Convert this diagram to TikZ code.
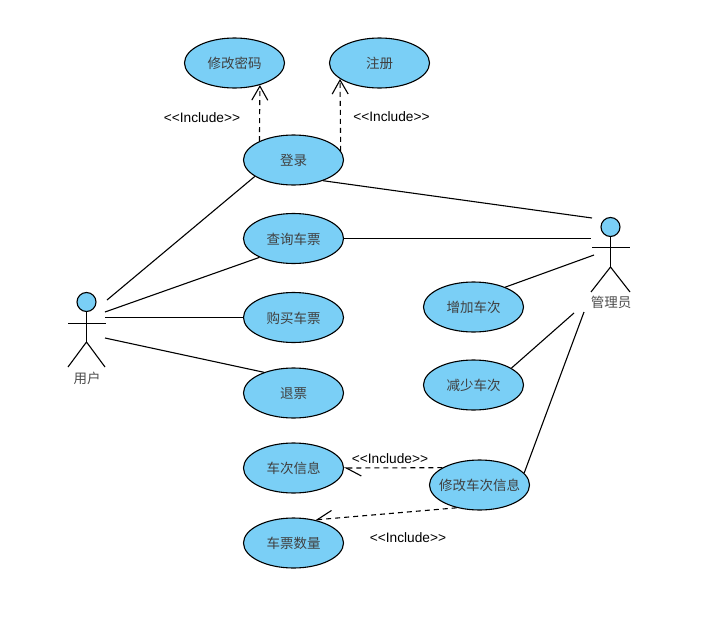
\documentclass[tikz,border=0pt]{standalone}
\usepackage{fontspec}
\setmainfont{Liberation Sans}
\newfontfamily\cjk{Noto Sans CJK SC}
\usepackage{xcolor}
\usetikzlibrary{shapes.geometric,arrows.meta}
\definecolor{casefill}{HTML}{7ACFF6}

\begin{document}
\begin{tikzpicture}[x=1pt,y=-1pt,
  usecase/.style={draw, ellipse, minimum width=100pt, minimum height=50pt, inner sep=-10pt, text height=13.5pt, text depth=1.6pt, font=\fontsize{13.5}{15}\cjk, text=black!75, fill=casefill, line width=1.1pt},
  head/.style={draw, circle, minimum size=19pt, inner sep=0pt, fill=casefill, line width=1.1pt},
  actorlabel/.style={font=\fontsize{13.5}{15}\cjk, text=black!70, inner sep=0pt},
  includelabel/.style={font=\fontsize{13.7}{15}\selectfont, inner sep=0pt},
  line/.style={line width=1.1pt},
  include/.style={line width=1.1pt, dash pattern=on 5pt off 4pt, -{Straight Barb[length=14pt, width=16pt, line width=1.1pt]}},
  includeleft/.style={line width=1.1pt, dash pattern=on 5pt off 4pt, -{Straight Barb[harpoon, length=15pt, width=16pt, line width=1.1pt]}},
  includeright/.style={line width=1.1pt, dash pattern=on 5pt off 4pt, -{Straight Barb[harpoon, swap, length=15pt, width=16pt, line width=1.1pt]}}
]
  \useasboundingbox (0,0) rectangle (707,640);

  \node[usecase] (changepwd) at (234.5,63) {修改密码};
  \node[usecase] (register) at (379.5,63) {注册};
  \node[usecase] (login) at (293.5,160) {登录};
  \node[usecase] (query) at (293.5,238.5) {查询车票};
  \node[usecase] (buy) at (293.5,317.5) {购买车票};
  \node[usecase] (refund) at (293.5,393) {退票};
  \node[usecase] (traininfo) at (293.5,468) {车次信息};
  \node[usecase] (ticketnum) at (293.5,543) {车票数量};
  \node[usecase] (addtrain) at (473.5,307) {增加车次};
  \node[usecase] (deltrain) at (473.5,385) {减少车次};
  \node[usecase] (edittrain) at (479.5,485) {修改车次信息};

  \node[head] (userhead) at (86.5,302) {};
  \coordinate (userhip) at (86.5,342);
  \coordinate (userleft) at (68,323.5);
  \coordinate (userright) at (106,323.5);
  \coordinate (userfootl) at (68,367);
  \coordinate (userfootr) at (105,367);
  \node[actorlabel] (userlabel) at (87,378) {用户};

  \node[head] (adminhead) at (610.5,227) {};
  \coordinate (adminhip) at (610.5,267);
  \coordinate (adminleft) at (592,247.5);
  \coordinate (adminright) at (630,247.5);
  \coordinate (adminfootl) at (591,292);
  \coordinate (adminfootr) at (630,292);
  \node[actorlabel] (adminlabel) at (611,302.5) {管理员};

  \draw[line] (userhead) -- (userhip);
  \draw[line] (userleft) -- (userright);
  \draw[line] (userfootl) -- (userhip) -- (userfootr);
  \draw[line] (adminhead) -- (adminhip);
  \draw[line] (adminleft) -- (adminright);
  \draw[line] (adminfootl) -- (adminhip) -- (adminfootr);

  \coordinate (ulogin) at (107,300);
  \coordinate (uquery) at (105,312);
  \coordinate (ubuy) at (105,317.5);
  \coordinate (urefund) at (105,338);
  \coordinate (alogin) at (592,218);
  \coordinate (aquery) at (591,238.5);
  \coordinate (aadd) at (594,255);
  \coordinate (adel) at (574,313);
  \coordinate (aedit) at (584,312);

  \draw[line] (login.203) -- (ulogin);
  \draw[line] (query.209) -- (uquery);
  \draw[line] (buy.west) -- (ubuy);
  \draw[line] (refund.145) -- (urefund);
  \draw[line] (login.-35) -- (alogin);
  \draw[line] (query.east) -- (aquery);
  \draw[line] (addtrain.32) -- (aadd);
  \draw[line] (deltrain.24) -- (adel);
  \draw[line] (edittrain.15) -- (aedit);

  \draw[include] (login.151) -- (changepwd.-41);
  \draw[include] (login.11) -- (register.202);
  \draw[includeleft] (edittrain.155) -- (traininfo.east);
  \draw[includeright] (edittrain.225) -- (ticketnum.47);

  \node[includelabel] (inc1) at (202,117.5) {<{}<Include>{}>};
  \node[includelabel] (inc2) at (391.5,116.7) {<{}<Include>{}>};
  \node[includelabel] (inc3) at (390,458.7) {<{}<Include>{}>};
  \node[includelabel] (inc4) at (408,537.7) {<{}<Include>{}>};
\end{tikzpicture}
\end{document}
